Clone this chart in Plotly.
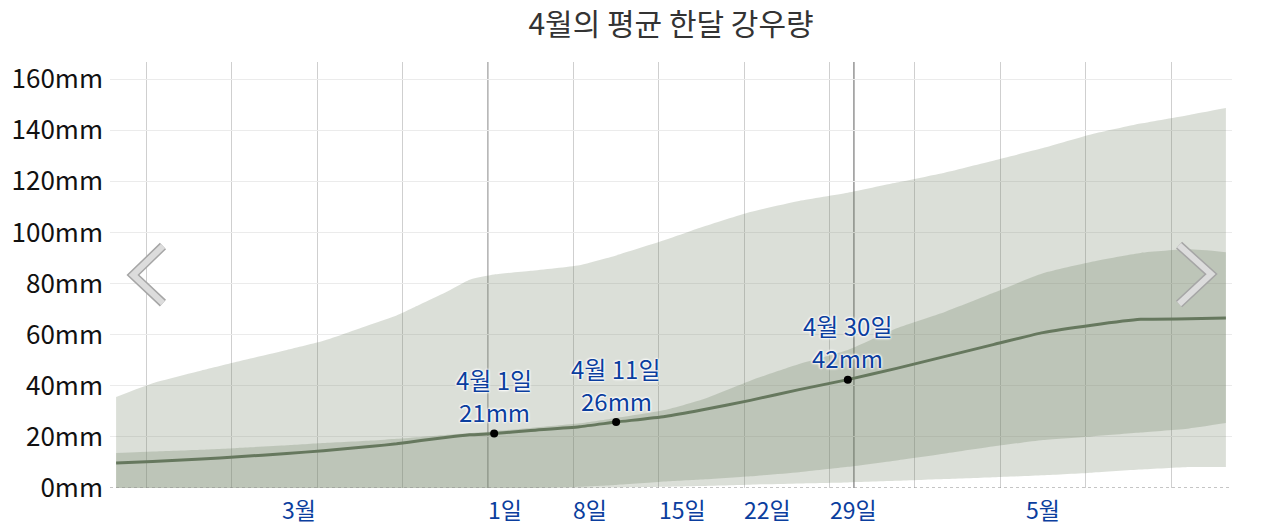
import plotly.graph_objects as go

# ---- data (days relative to April 1; 0 = 4월 1일) ----
day = [-31, -28, -24, -21, -17, -14, -10, -8, -6, -4, -2, 0, 3, 7, 10, 14, 17,
       21, 25, 29, 33, 37, 41, 45, 49, 53, 57, 60]
mean_mm = [9.8, 10.4, 11.3, 12.2, 13.5, 14.6, 16.3, 17.3, 18.6, 19.8, 20.8, 21.3,
           22.5, 24.0, 25.8, 28.0, 30.5, 34.3, 38.5, 42.4, 46.8, 51.5, 56.2, 60.8,
           63.7, 66.0, 66.2, 66.5]
p90_mm = [35.6, 41.0, 46.0, 49.5, 54.0, 57.6, 64.2, 67.5, 72.0, 76.5, 81.5, 83.5,
          85.0, 87.2, 91.0, 97.0, 102.0, 108.0, 112.3, 115.5, 119.5, 123.5, 128.2,
          133.0, 138.4, 142.6, 146.0, 148.7]
p75_mm = [13.7, 14.3, 15.0, 15.7, 16.7, 17.6, 18.6, 19.3, 20.0, 20.7, 21.5, 22.2,
          23.5, 25.3, 27.4, 30.5, 34.5, 42.0, 48.5, 54.0, 62.5, 69.0, 76.5, 84.0,
          88.5, 92.0, 93.4, 92.3]
p25_mm = [0, 0, 0, 0, 0, 0, 0, 0, 0, 0, 0, 0, 0, 0.5, 1.2, 2.5, 3.3, 4.6, 6.2, 8.3,
          10.8, 13.5, 16.3, 18.8, 20.2, 21.7, 23.3, 25.4]
p10_mm = [0, 0, 0, 0, 0, 0, 0, 0, 0, 0, 0, 0, 0, 0, 0.2, 0.5, 0.8, 1.3, 1.8, 2.2,
          2.8, 3.5, 4.2, 5.0, 6.0, 7.2, 8.2, 8.2]

mark_day = [0, 10, 29]
mark_name = ["4월 1일", "4월 11일", "4월 30일"]

y_ticks = [0, 20, 40, 60, 80, 100, 120, 140, 160]
day_ticks = [0, 7, 14, 21, 28]
day_tick_text = ["1일", "8일", "15일", "22일", "29일"]
month_start = [-31, 30]
month_len = [31, 31]
month_text = ["3월", "5월"]
month_lines = [0, 30]

title = "4월의 평균 한달 강우량"

FONT = "Noto Sans CJK KR"
BLUE = "#0b3e9e"
BAND = "110,128,100"
HALO = "0px 0px 3px #fff, 0px 0px 3px #fff, 0px 0px 2px #fff, 0px 0px 2px #fff"

xc = [d + 0.5 for d in day]  # centre of each day

fig = go.Figure()
fig.add_trace(go.Scatter(x=xc, y=p10_mm, mode="lines", line=dict(width=0, shape="spline", smoothing=0.5),
                         hoverinfo="skip", showlegend=False))
fig.add_trace(go.Scatter(x=xc, y=p90_mm, mode="lines", line=dict(width=0, shape="spline", smoothing=0.5),
                         fill="tonexty", fillcolor=f"rgba({BAND},0.25)", hoverinfo="skip", showlegend=False))
fig.add_trace(go.Scatter(x=xc, y=p25_mm, mode="lines", line=dict(width=0, shape="spline", smoothing=0.5),
                         hoverinfo="skip", showlegend=False))
fig.add_trace(go.Scatter(x=xc, y=p75_mm, mode="lines", line=dict(width=0, shape="spline", smoothing=0.5),
                         fill="tonexty", fillcolor=f"rgba({BAND},0.27)", hoverinfo="skip", showlegend=False))
fig.add_trace(go.Scatter(x=xc, y=mean_mm, mode="lines",
                         line=dict(color="#66785e", width=3, shape="spline", smoothing=0.5),
                         showlegend=False))

mx = [d + 0.5 for d in mark_day]
my = [mean_mm[day.index(d)] for d in mark_day]
fig.add_trace(go.Scatter(x=mx, y=my, mode="markers", marker=dict(color="black", size=8),
                         showlegend=False))

for x, y, name in zip(mx, my, mark_name):
    fig.add_annotation(x=x, y=y, text=name, showarrow=False,
                       xanchor="center", yanchor="middle", yshift=54,
                       font=dict(family=FONT, size=24, color=BLUE, shadow=HALO))
    fig.add_annotation(x=x, y=y, text=f"{round(y)}mm", showarrow=False,
                       xanchor="center", yanchor="middle", yshift=22,
                       font=dict(family=FONT, size=24, color=BLUE, shadow=HALO))

for d, t in zip(day_ticks, day_tick_text):
    fig.add_annotation(x=d, y=0, yref="paper", text=t, showarrow=False,
                       xanchor="left", yanchor="top", yshift=-2, xshift=-2,
                       font=dict(family=FONT, size=23, color=BLUE))
for s, n, t in zip(month_start, month_len, month_text):
    fig.add_annotation(x=s + n / 2, y=0, yref="paper", text=t, showarrow=False,
                       xanchor="center", yanchor="top", yshift=-2,
                       font=dict(family=FONT, size=23, color=BLUE))

# month boundary lines
for d in month_lines:
    fig.add_shape(type="line", x0=d, x1=d, y0=0, y1=1, yref="paper",
                  line=dict(color="#7a7a7a", width=1.2), layer="below")
# dotted zero line
fig.add_shape(type="line", x0=0, x1=1, xref="paper", y0=0, y1=0,
              line=dict(color="#8a8a8a", width=1, dash="dot"), layer="above")

# navigation chevrons (paper coordinates)
left_path = "M 0.0472 0.568 L 0.0205 0.500 L 0.0472 0.434"
right_path = "M 0.9528 0.570 L 0.9813 0.502 L 0.9528 0.432"
for p in (left_path, right_path):
    fig.add_shape(type="path", path=p, xref="paper", yref="paper",
                  line=dict(color="#a6a6a6", width=9), layer="above")
    fig.add_shape(type="path", path=p, xref="paper", yref="paper",
                  line=dict(color="#dcdcdc", width=6), layer="above")

fig.update_layout(
    width=1280, height=531,
    margin=dict(l=110, r=48, t=62, b=43),
    paper_bgcolor="white", plot_bgcolor="white",
    font=dict(family=FONT),
    title=dict(text=title, x=0.5, xref="paper", xanchor="center", y=1 - 24 / 531, yanchor="middle",
               font=dict(family=FONT, size=30, color="#333333")),
    xaxis=dict(range=[-31, 61], showticklabels=False, tickvals=day_ticks, ticks="",
               showgrid=True, gridcolor="#cfcfcf", gridwidth=1, zeroline=False, showline=False,
               minor=dict(tick0=-28, dtick=7, showgrid=True, gridcolor="#cfcfcf", gridwidth=1, ticks="")),
    yaxis=dict(range=[0, 166.7], tickvals=y_ticks, ticktext=[f"{v}mm" for v in y_ticks],
               ticks="", ticklabelstandoff=6, showgrid=True, gridcolor="#ebebeb", gridwidth=1,
               zeroline=False, showline=False,
               tickfont=dict(family=FONT, size=26, color="#111111")),
    showlegend=False,
)

fig.write_html("out.html", config={"displayModeBar": False},
               post_script="document.body.style.margin='0px';")
